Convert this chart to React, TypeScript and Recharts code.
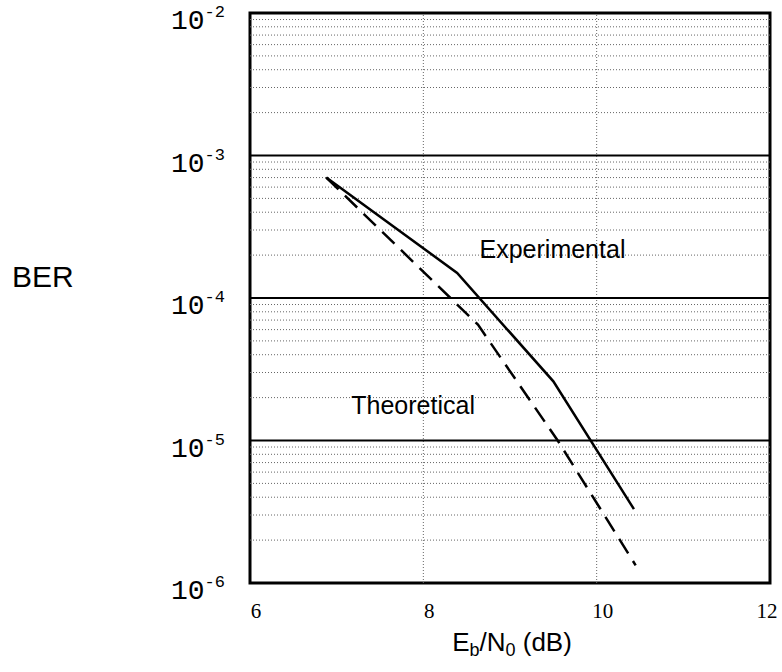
import { LineChart, Line, XAxis, YAxis, ReferenceLine, ReferenceDot, ReferenceArea } from "recharts";

// Eb/N0 (dB) vs BER
const experimental = [
  { snr: 6.88, ber: 7.0e-4 },
  { snr: 8.39, ber: 1.5e-4 },
  { snr: 9.5, ber: 2.6e-5 },
  { snr: 10.43, ber: 3.3e-6 },
];

const theoretical = [
  { snr: 6.88, ber: 7.0e-4 },
  { snr: 8.63, ber: 6.5e-5 },
  { snr: 9.55, ber: 1.0e-5 },
  { snr: 10.45, ber: 1.33e-6 },
];

const xTicks = [6, 8, 10, 12];
const xGrid = [8, 10];
const decades = [1e-6, 1e-5, 1e-4, 1e-3, 1e-2];
const minorSteps = [2, 3, 4, 5, 6, 7, 8, 9];
const minorLines = decades.slice(0, -1).flatMap((d) => minorSteps.map((m) => m * d));

const SANS = "Liberation Sans, Arial, sans-serif";

function DecadeTick({ x, y, payload }: any) {
  const exp = Math.round(Math.log10(payload.value));
  return (
    <text x={x - 73} y={y + 16} textAnchor="start" fontFamily="Liberation Mono, monospace" fontSize={28} fill="#000">
      10
      <tspan dy={-12} fontSize={17}>
        {String(exp)}
      </tspan>
    </text>
  );
}

function SnrTick({ x, y, payload }: any) {
  return (
    <text x={Math.min(x + 6, 767)} y={y + 29} textAnchor="middle" fontFamily="Liberation Serif, Times New Roman, serif" fontSize={21} fill="#000">
      {payload.value}
    </text>
  );
}

function curveLabel(text: string) {
  return ({ viewBox }: any) => (
    <text x={viewBox.x} y={viewBox.y} fontFamily={SANS} fontSize={25} fill="#000">
      {text}
    </text>
  );
}

export default function App() {
  return (
    <div style={{ position: "absolute", left: 0, top: 0, background: "#fff" }}>
      <LineChart width={782} height={672} margin={{ top: 13, right: 12, bottom: 0, left: 0 }}>
        <XAxis
          dataKey="snr"
          type="number"
          domain={[6, 12]}
          ticks={xTicks}
          tick={<SnrTick />}
          tickLine={false}
          tickMargin={0}
          axisLine={false}
          height={89}
          allowDataOverflow
          label={{
            content: () => (
              <text x={512} y={651} textAnchor="middle" fontFamily={SANS} fontSize={26} fill="#000">
                E<tspan fontSize={18} dy={5}>b</tspan>
                <tspan dy={-5}>/N</tspan>
                <tspan fontSize={18} dy={5}>0</tspan>
                <tspan dy={-5}> (dB)</tspan>
              </text>
            ),
          }}
        />
        <YAxis
          type="number"
          scale="log"
          domain={[1e-6, 1e-2]}
          ticks={decades}
          tick={<DecadeTick />}
          tickLine={false}
          tickMargin={0}
          axisLine={false}
          width={250}
          allowDataOverflow
          label={{
            content: () => (
              <text x={12} y={287} fontFamily={SANS} fontSize={30} fill="#000">
                BER
              </text>
            ),
          }}
        />

        {minorLines.map((v) => (
          <ReferenceLine key={"m" + v} y={v} stroke="#666" strokeWidth={1} strokeDasharray="1 2" />
        ))}
        {xGrid.map((v) => (
          <ReferenceLine key={"x" + v} x={v} stroke="#666" strokeWidth={1} strokeDasharray="1 2" />
        ))}
        {decades.slice(1, -1).map((v) => (
          <ReferenceLine key={"d" + v} y={v} stroke="#000" strokeWidth={2} />
        ))}
        <ReferenceArea x1={6} x2={12} y1={1e-6} y2={1e-2} fill="none" fillOpacity={0} stroke="#000" strokeWidth={3} />

        <Line data={theoretical} dataKey="ber" type="linear" stroke="#000" strokeWidth={2.5} strokeDasharray="17 9" dot={false} isAnimationActive={false} />
        <Line data={experimental} dataKey="ber" type="linear" stroke="#000" strokeWidth={2.5} dot={false} isAnimationActive={false} />

        <ReferenceDot x={8.66} y={1.89e-4} r={1} fill="none" stroke="none" label={{ content: curveLabel("Experimental") }} />
        <ReferenceDot x={7.18} y={1.52e-5} r={1} fill="none" stroke="none" label={{ content: curveLabel("Theoretical") }} />
      </LineChart>
    </div>
  );
}
